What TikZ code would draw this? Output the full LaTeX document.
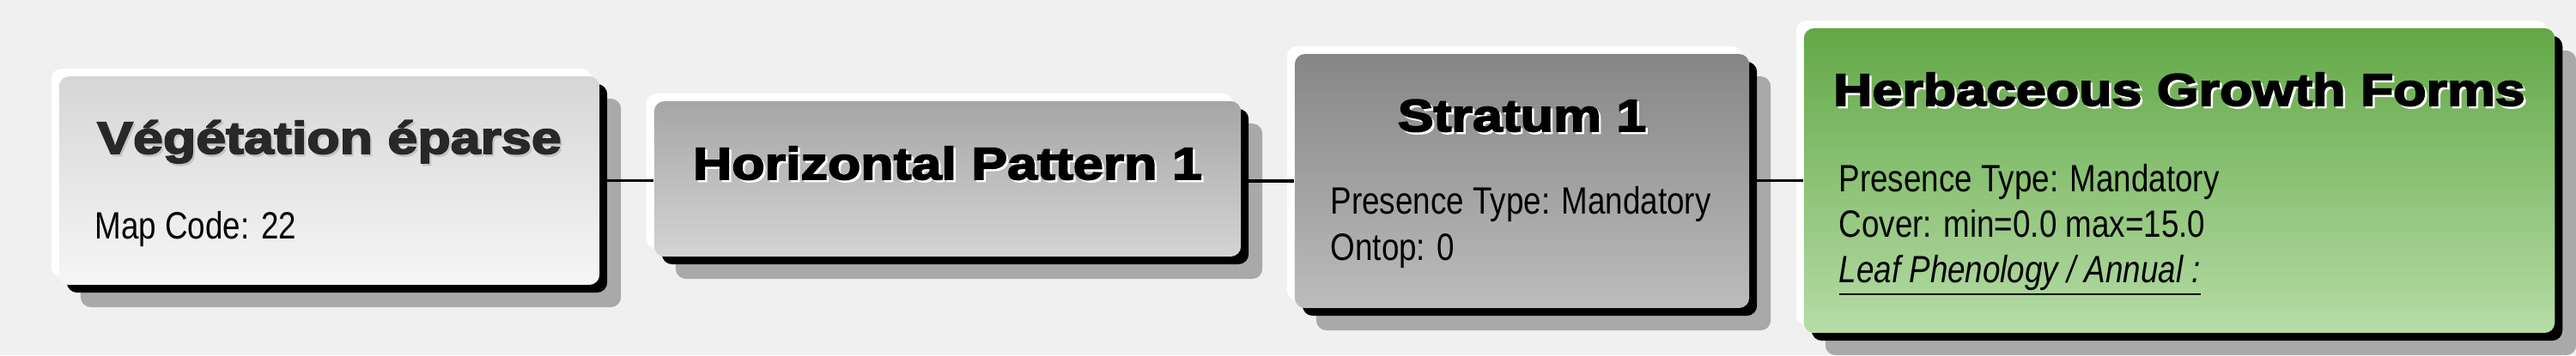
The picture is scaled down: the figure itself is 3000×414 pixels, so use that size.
\documentclass[tikz,border=0pt]{standalone}
\usepackage{fontspec}
\setmainfont{Liberation Sans}
\newfontfamily\hdfont[FakeStretch=1.19,BoldFeatures={FakeBold=3.5}]{Liberation Sans}
\newfontfamily\txtfont[FakeStretch=0.83]{Liberation Sans}
\usetikzlibrary{shadows}
\definecolor{bgcol}{HTML}{F0F0F0}
\definecolor{shadowgray}{HTML}{A9A9A9}
\definecolor{vegA}{HTML}{D6D6D6}
\definecolor{vegB}{HTML}{F6F6F6}
\definecolor{hpA}{HTML}{A6A6A6}
\definecolor{hpB}{HTML}{D4D4D4}
\definecolor{strA}{HTML}{868686}
\definecolor{strB}{HTML}{BCBCBC}
\definecolor{herbA}{HTML}{62A846}
\definecolor{herbB}{HTML}{B6DCA6}
\definecolor{vegink}{HTML}{282828}
\definecolor{vegglow}{HTML}{C4C4C4}
\begin{document}
\begin{tikzpicture}[x=0.01cm, y=-0.01cm,
    box/.style={rectangle, rounded corners=3.4pt, inner sep=0pt, shading angle=45,
        general shadow={fill=shadowgray, shadow xshift=0.25cm, shadow yshift=-0.26cm},
        general shadow={fill=black, shadow xshift=0.09cm, shadow yshift=-0.09cm},
        general shadow={fill=white, shadow xshift=-0.09cm, shadow yshift=0.09cm}},
    hd/.style={anchor=base, inner sep=0pt, font=\hdfont\bfseries\fontsize{15pt}{17pt}\selectfont},
    txt/.style={anchor=base west, inner sep=0pt, font=\txtfont\fontsize{12.6pt}{15pt}\selectfont},
    conn/.style={line width=0.9pt}]
    \useasboundingbox (0,0) rectangle (3000,414);
    \fill[bgcol] (0,0) rectangle (3000,414);
    % boxes
    \node[box, minimum width=6.29cm, minimum height=2.43cm, top color=vegA, bottom color=vegB] (veg) at (383.5,210.5) {};
    \node[box, minimum width=6.83cm, minimum height=1.81cm, top color=hpA, bottom color=hpB] (hp) at (1103.5,208.5) {};
    \node[box, minimum width=5.29cm, minimum height=2.96cm, top color=strA, bottom color=strB] (str) at (1772.5,211) {};
    \node[box, minimum width=8.74cm, minimum height=3.55cm, top color=herbA, bottom color=herbB] (herb) at (2538,210.5) {};
    % titles
    \node[hd, text=vegglow] (vegTs) at (385.5,181.5) {Végétation éparse};
    \node[hd, text=vegink] (vegT) at (383.5,179) {Végétation éparse};
    \node[hd, text=white] (hpTs) at (1106,211.5) {Horizontal Pattern 1};
    \node[hd] (hpT) at (1103.5,209) {Horizontal Pattern 1};
    \node[hd, text=white] (strTs) at (1775,155.5) {Stratum 1};
    \node[hd] (strT) at (1772.5,153) {Stratum 1};
    \node[hd, text=white] (herbTs) at (2540.5,125.5) {Herbaceous Growth Forms};
    \node[hd] (herbT) at (2538,123) {Herbaceous Growth Forms};
    % attributes
    \node[txt] (vegA1) at (110,278) {Map Code: 22};
    \node[txt] (strA1) at (1549,249) {Presence Type: Mandatory};
    \node[txt] (strA2) at (1549,303) {Ontop: 0};
    \node[txt] (herbA1) at (2141,223) {Presence Type: Mandatory};
    \node[txt] (herbA2) at (2141,276) {Cover: min=0.0 max=15.0};
    \node[txt] (herbA3) at (2141,329) {\itshape\underline{Leaf Phenology / Annual :}};
    % links
    \draw[conn] (veg.east) -- (veg.east -| hp.west);
    \draw[conn] (str.west -| hp.east) -- (str.west);
    \draw[conn] (herb.west -| str.east) -- (herb.west);
\end{tikzpicture}
\end{document}
